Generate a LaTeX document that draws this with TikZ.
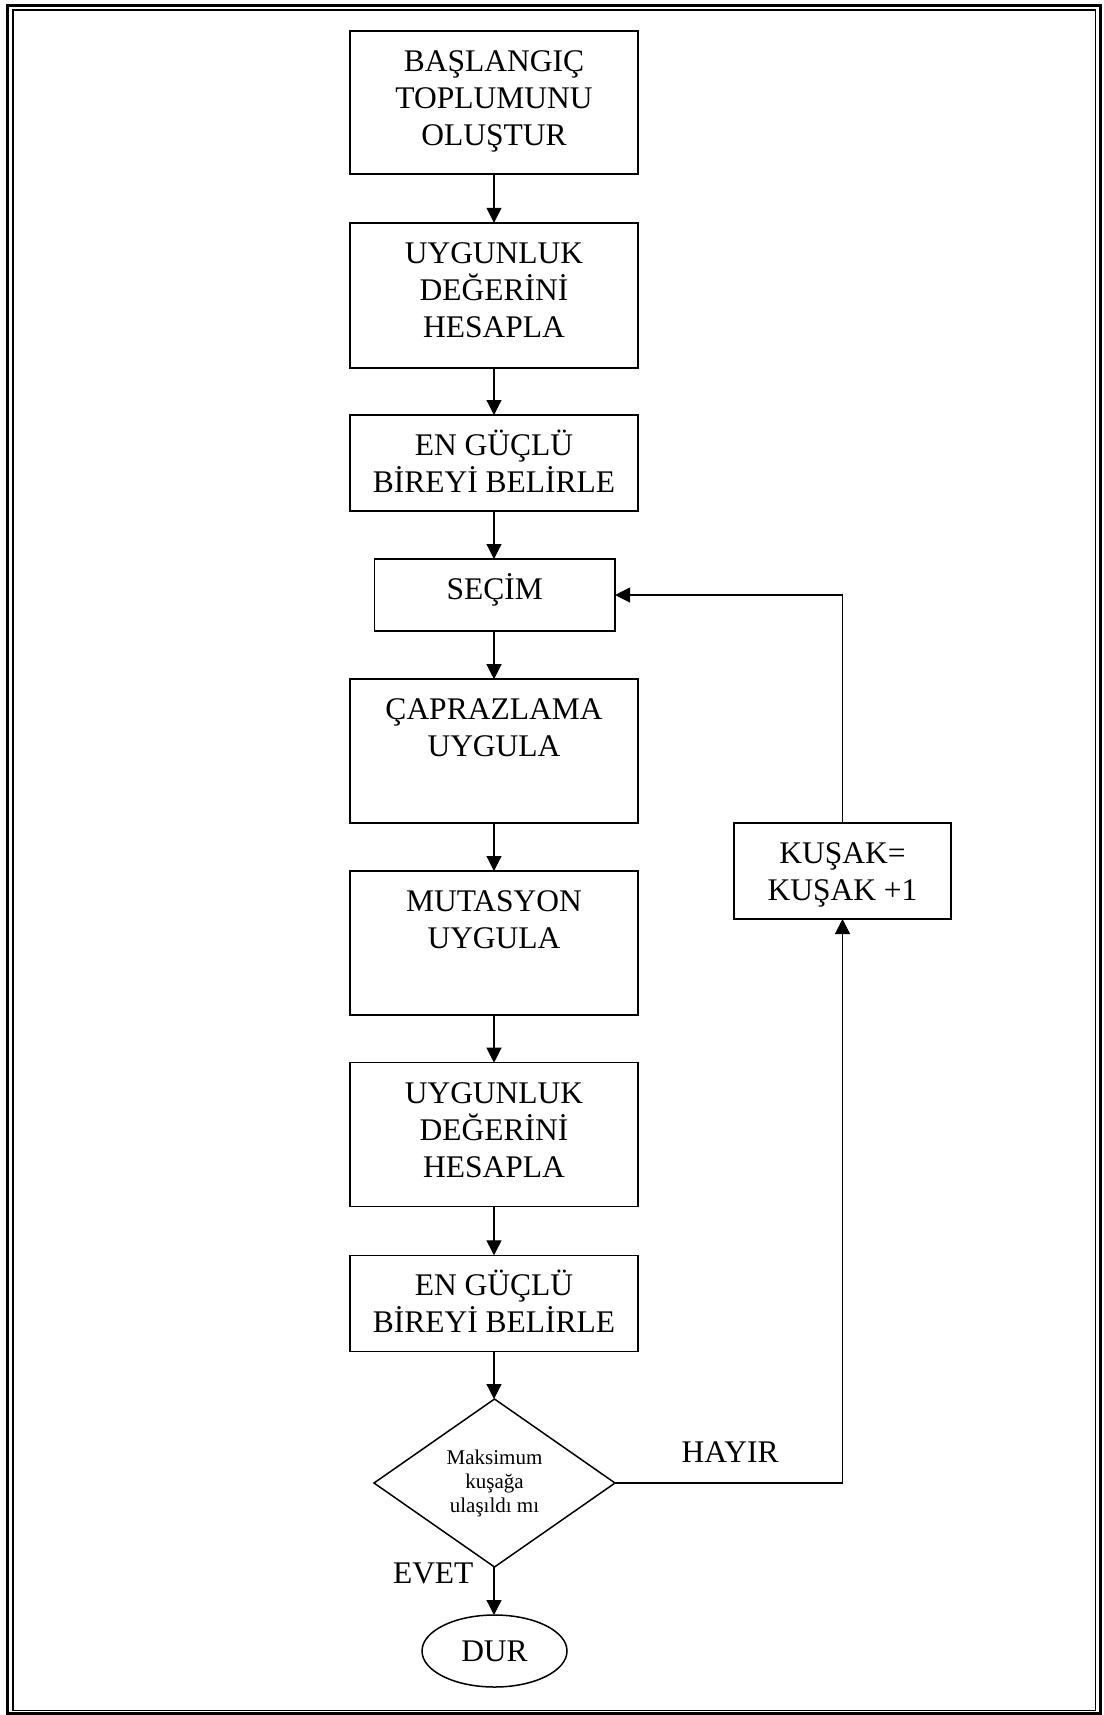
\documentclass[tikz,border=0pt]{standalone}
\usepackage{fontspec}
\setmainfont{Liberation Serif}
\usetikzlibrary{arrows.meta,shapes.geometric}
% top-aligned, centred text block of a given height and width
\newcommand\flowtext[3]{\parbox[c][#1][t]{#2}{\centering\rule{0pt}{40.5pt}#3\par}}

\begin{document}
\begin{tikzpicture}[x=1pt,y=-1pt,
  every node/.style={font=\fontsize{31.5}{37}\selectfont, inner sep=0pt, outer sep=0pt},
  procbox/.style={draw, line width=1.5pt, rectangle},
  decbox/.style={draw, line width=1.5pt, diamond, aspect=1.434, minimum width=241pt, minimum height=168pt,
                 font=\fontsize{21}{24}\selectfont},
  termbox/.style={draw, line width=1.5pt, ellipse, minimum width=145pt, minimum height=72pt},
  conn/.style={line width=1.2pt, -{Triangle[length=15pt,width=15pt]}}]

\useasboundingbox (0,0) rectangle (1103,1715);

% page frame
\draw[line width=2.8pt] (7.5,5.5) rectangle (1100.5,1713.5);
\draw[line width=1.8pt] (13,10) rectangle (1095.5,1710.5);

% main column
\node[procbox] (b1) at (494,102.7) {\flowtext{143pt}{288pt}{BAŞLANGIÇ\\TOPLUMUNU\\OLUŞTUR}};
\node[procbox] (b2) at (494,295.3) {\flowtext{145pt}{288pt}{UYGUNLUK\\DEĞERİNİ\\HESAPLA}};
\node[procbox] (b3) at (494,463) {\flowtext{96pt}{288pt}{EN GÜÇLÜ\\BİREYİ BELİRLE}};
\node[procbox] (b4) at (494.7,595) {\flowtext{72pt}{240.7pt}{SEÇİM}};
\node[procbox] (b5) at (494,751.2) {\flowtext{144pt}{288pt}{ÇAPRAZLAMA\\UYGULA}};
\node[procbox] (b6) at (494,943) {\flowtext{144pt}{288pt}{MUTASYON\\UYGULA}};
\node[procbox] (b7) at (494,1134.7) {\flowtext{144pt}{288pt}{UYGUNLUK\\DEĞERİNİ\\HESAPLA}};
\node[procbox] (b8) at (494,1303.3) {\flowtext{96pt}{288pt}{EN GÜÇLÜ\\BİREYİ BELİRLE}};
\node[decbox] (dec) at (494.5,1483) {\raisebox{-3pt}{\parbox{100pt}{\centering Maksimum\\kuşağa\\ulaşıldı mı}}};
\node[termbox] (dur) at (494.5,1651) {DUR};

% generation counter
\node[procbox] (ks) at (842.5,871) {\flowtext{96pt}{217pt}{KUŞAK=\\KUŞAK +1}};

% branch labels
\node[anchor=base west] (evet) at (393,1583) {EVET};
\node[anchor=base west] (hayir) at (681.7,1462.3) {HAYIR};

% connectors
\draw[conn] (b1.south) -- (b1.south |- b2.north);
\draw[conn] (b2.south) -- (b2.south |- b3.north);
\draw[conn] (b3.south) -- (b3.south |- b4.north);
\draw[conn] (b3.south |- b4.south) -- (b3.south |- b5.north);
\draw[conn] (b5.south) -- (b5.south |- b6.north);
\draw[conn] (b6.south) -- (b6.south |- b7.north);
\draw[conn] (b7.south) -- (b7.south |- b8.north);
\draw[conn] (b8.south) -- (b8.south |- dec.north);
\draw[conn] (b8.south |- dec.south) -- (b8.south |- dur.north);
\draw[conn] (dec.east) -| (ks.south);
\draw[conn] (ks.north) |- (b4.east);

\end{tikzpicture}
\end{document}
